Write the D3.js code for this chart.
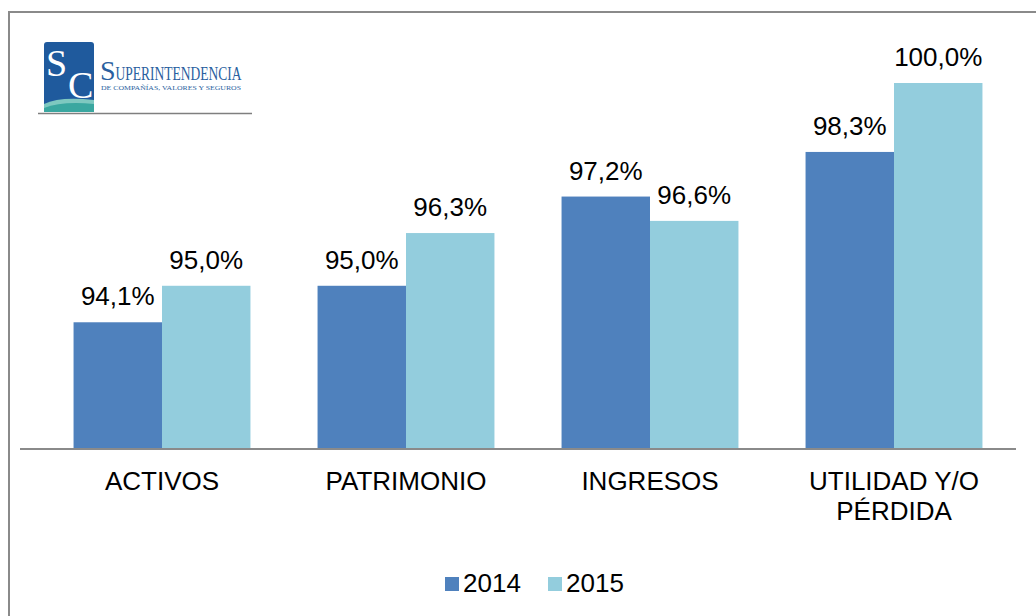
<!DOCTYPE html>
<html>
<head>
<meta charset="utf-8">
<script src="https://cdn.jsdelivr.net/npm/d3@7"></script>
<style>
  html, body { margin: 0; padding: 0; background: #fff; }
  svg { display: block; }
  text { font-family: "Liberation Sans", Arial, sans-serif; }
  text.serif { font-family: "Liberation Serif", "DejaVu Serif", serif; }
</style>
</head>
<body>
<div id="chart"></div>
<script>
const categories = ["ACTIVOS", "PATRIMONIO", "INGRESOS", "UTILIDAD Y/O PÉRDIDA"];
const categoryLines = [["ACTIVOS"], ["PATRIMONIO"], ["INGRESOS"], ["UTILIDAD Y/O", "PÉRDIDA"]];
const seriesNames = ["2014", "2015"];
const values2014 = [94.1, 95.0, 97.2, 98.3];
const values2015 = [95.0, 96.3, 96.6, 100.0];
const colors = ["#4F81BD", "#93CDDD"];

const W = 1036, H = 616;
const svg = d3.select("#chart").append("svg").attr("width", W).attr("height", H);

// outer frame (right/bottom edges fall outside the picture)
svg.append("path")
  .attr("d", `M9,${H + 5} L9,12 L${W + 5},12`)
  .attr("fill", "none").attr("stroke", "#8a8a8a").attr("stroke-width", 2);

// logo
const logo = svg.append("g");
logo.append("rect").attr("x", 44).attr("y", 42).attr("width", 50).attr("height", 70).attr("rx", 3).attr("fill", "#1f5a9d");
logo.append("path").attr("d", "M44,104 Q60,96 94,100 L94,112 L44,112 Z").attr("fill", "#7ec8c0");
logo.append("path").attr("d", "M44,108 Q62,101 94,104 L94,112 L44,112 Z").attr("fill", "#3aa7a0");
const sc = logo.append("text").attr("class", "serif").attr("x", 46).attr("y", 76)
  .attr("font-size", 38).attr("fill", "#fff");
sc.append("tspan").text("S");
sc.append("tspan").attr("x", 68).attr("dy", 22).text("C");
const lt = logo.append("text").attr("class", "serif").attr("x", 100).attr("y", 80).attr("fill", "#2a5fa0");
lt.append("tspan").attr("font-size", 28).text("S");
lt.append("tspan").attr("font-size", 18).attr("textLength", 126).attr("lengthAdjust", "spacingAndGlyphs").text("UPERINTENDENCIA");
logo.append("text").attr("class", "serif").attr("x", 101).attr("y", 90)
  .attr("font-size", 7).attr("fill", "#2a5fa0").attr("textLength", 140).attr("lengthAdjust", "spacingAndGlyphs")
  .text("DE COMPAÑÍAS, VALORES Y SEGUROS");
logo.append("line").attr("x1", 38).attr("x2", 252).attr("y1", 113.5).attr("y2", 113.5).attr("stroke", "#7f7f7f").attr("stroke-width", 1.5);

// scales
const x0 = d3.scaleBand().domain(categories).range([40, 1016]).paddingInner(0.275).paddingOuter(0.1375);
const x1 = d3.scaleBand().domain(seriesNames).range([0, x0.bandwidth()]);
const y = d3.scaleLinear().domain([91, 100]).range([448, 83]);

const data = categories.map((c, i) => ({ cat: c, vals: [values2014[i], values2015[i]] }));
const fmt = v => d3.format(".1f")(v).replace(".", ",") + "%";

const groups = svg.append("g").selectAll("g").data(data).join("g")
  .attr("transform", d => `translate(${x0(d.cat)},0)`);
groups.selectAll("rect").data(d => d.vals.map((v, j) => ({ v, s: seriesNames[j], j }))).join("rect")
  .attr("x", d => x1(d.s)).attr("width", x1.bandwidth())
  .attr("y", d => y(d.v)).attr("height", d => y(91) - y(d.v))
  .attr("fill", d => colors[d.j]);
groups.selectAll("text.val").data(d => d.vals.map((v, j) => ({ v, s: seriesNames[j] }))).join("text")
  .attr("class", "val")
  .attr("x", d => x1(d.s) + x1.bandwidth() / 2).attr("y", d => y(d.v) - 17)
  .attr("text-anchor", "middle").attr("font-size", 26).attr("fill", "#000")
  .text(d => fmt(d.v));

// axis line
const xAxis = d3.axisBottom(x0).tickSize(0).tickFormat("");
const ax = svg.append("g").attr("transform", `translate(0,${y(91) + 1})`).call(xAxis);
ax.select(".domain").attr("d", "M20,0H1016").attr("stroke", "#8a8a8a").attr("stroke-width", 2);

// category labels
svg.append("g").selectAll("text").data(categories).join("text")
  .attr("text-anchor", "middle").attr("font-size", 26).attr("fill", "#000")
  .attr("transform", d => `translate(${x0(d) + x0.bandwidth() / 2},490)`)
  .each(function (d, i) {
    d3.select(this).selectAll("tspan").data(categoryLines[i]).join("tspan")
      .attr("x", 0).attr("y", (l, k) => k * 30).text(l => l);
  });

// legend
const legendX = [445, 548];
const lg = svg.append("g").selectAll("g").data(seriesNames).join("g")
  .attr("transform", (d, i) => `translate(${legendX[i]},577)`);
lg.append("rect").attr("width", 14).attr("height", 14).attr("fill", (d, i) => colors[i]);
lg.append("text").attr("x", 18).attr("y", 15).attr("font-size", 26).attr("fill", "#000").text(d => d);
</script>
</body>
</html>
